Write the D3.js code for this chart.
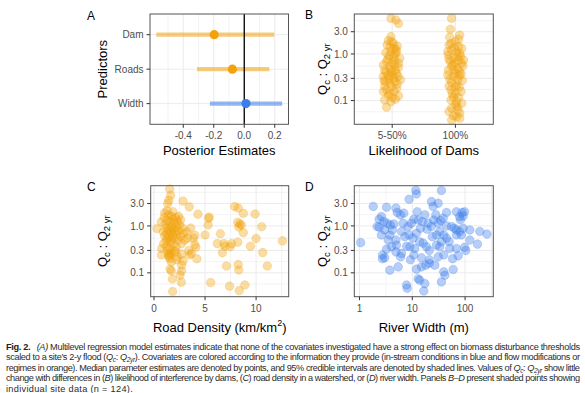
<!DOCTYPE html>
<html>
<head>
<meta charset="utf-8">
<script src="https://cdn.jsdelivr.net/npm/d3@7"></script>
<style>
body { margin: 0; background: #fff; }
text { font-family: "Liberation Sans", Arial, sans-serif; }
</style>
</head>
<body>
<div id="chart-area"></div>
<script>
// ---- Data ----

// Panel A: posterior estimates
const predictors = ["Dam", "Roads", "Width"];
const predictorType = ["flow", "flow", "instream"];
const estMedian = [-0.197, -0.078, 0.011];
const estLower = [-0.577, -0.31, -0.225];
const estUpper = [0.197, 0.164, 0.249];
const estTicks = [-0.4, -0.2, 0.0, 0.2];
const estMinor = [-0.5, -0.3, -0.1, 0.1];

// shared y axis of B-D
const qTicks = [0.1, 0.3, 1, 3];
const qTickLabels = ["0.1", "0.3", "1.0", "3.0"];
const qLimits = [0.031, 7.2];

// Panel B: likelihood of dams (jitter offsets)
const damClasses = ["5-50%", "100%"];
const damLowQ = [5.8,4.5,5.35,2.35,1.93,1.69,1.32,1.12,1.12,0.91,0.88,0.74,0.69,0.58,0.54,0.58,0.45,0.42,0.385,0.355,0.33,0.30,0.33,0.255,0.235,0.255,0.20,0.169,0.184,0.156,0.132,0.118,0.126,0.103,0.095,0.072,1.56,1.48,1.39,1.0,1.07,0.81,0.77,0.65,0.52,0.47,0.44,0.40,0.28,0.30,0.228,0.206,0.156,0.144,1.26,1.84,0.63,0.27,0.355,0.107];
const damLowJitter = [-0.02,0.10,0.06,-0.02,-0.06,0.02,0.03,-0.02,0.07,-0.05,0.02,0.04,-0.09,-0.14,-0.04,0.04,-0.12,-0.01,0.07,-0.06,-0.14,0.02,0.09,-0.11,-0.04,0.04,-0.01,-0.09,0.07,-0.14,-0.06,0.0,0.10,-0.12,-0.02,-0.09,-0.08,0.08,-0.03,0.05,-0.10,0.12,-0.07,0.0,0.10,-0.03,0.05,-0.1,0.13,-0.05,0.08,-0.12,0.03,-0.04,0.06,-0.01,0.1,-0.13,0.0,0.05];
const damHighQ = [5.8,3.4,2.55,1.69,1.84,1.44,1.22,1.12,0.95,1.03,0.81,0.74,0.69,0.63,0.63,0.54,0.49,0.45,0.42,0.385,0.37,0.33,0.28,0.243,0.217,0.193,0.169,0.144,0.118,0.118,0.103,0.095,0.081,0.069,0.063,0.054,0.047,0.042,0.0385,0.045,1.56,1.32,1.39,0.88,0.77,0.91,0.58,0.55,0.355,0.34,0.29,0.27,0.20,0.206,0.156,0.139,0.074,0.058,0.088,0.45,2.06,2.28,0.74,1.12];
const damHighJitter = [-0.06,-0.08,0.07,-0.07,0.0,0.05,-0.06,0.02,-0.11,0.07,-0.03,0.05,-0.08,0.0,0.10,-0.06,0.04,-0.11,0.07,0.0,0.09,-0.03,0.04,-0.06,0.02,0.06,-0.07,0.0,-0.03,0.05,-0.07,0.02,0.0,-0.06,0.04,0.07,-0.03,0.07,-0.06,0.02,-0.1,0.1,-0.02,0.08,-0.1,0.03,-0.04,0.12,-0.12,0.06,-0.09,0.11,0.0,-0.1,0.09,-0.05,0.03,-0.1,0.1,-0.02,0.05,-0.09,0.13,-0.12];

// Panel C: road density (km/km2)
const roadDensity = [1.54,1.63,1.44,1.35,2.84,3.45,4.3,5.4,5.35,5.3,5.0,6.5,6.2,6.85,6.95,6.7,7.45,7.9,8.25,8.75,9.9,8.2,8.4,8.55,8.3,8.75,10.55,10.0,9.45,8.2,10.65,12.58,11.1,8.25,8.3,7.1,8.9,8.35,7.4,5.55,7.6,4.2,4.0,3.85,4.1,4.0,
  0.29,0.72,0.75,0.72,1.04,1.2,1.4,1.5,1.55,1.7,1.57,1.7,1.8,1.83,2.68,2.55,2.7,2.7,2.84,2.7,3.4,3.5,3.66,2.2,2.0,
  1.0,1.1,1.2,1.25,1.3,1.3,1.4,1.45,1.5,1.5,1.55,1.6,1.65,1.7,1.7,1.75,1.8,1.85,1.9,1.9,2.0,2.0,2.05,2.1,2.15,2.2,2.25,2.3,2.35,2.4,2.5,2.6,2.7,2.8,2.9,3.0,3.2,3.3,1.35,1.6,1.45,1.65,1.2,1.05,0.9,2.4,2.6,1.85,1.3,2.1,2.3,0.95,3.6];
const roadQ = [6.1,4.5,3.5,3.0,3.4,2.55,1.78,1.55,1.45,1.05,0.64,0.68,0.42,0.42,0.37,0.27,0.36,2.6,2.4,1.85,1.8,1.2,1.1,1.05,0.95,0.72,0.96,0.54,0.37,0.45,0.27,0.48,0.14,0.15,0.115,0.14,0.055,0.042,0.052,0.062,0.42,0.2,0.4,0.55,0.35,0.63,
  0.88,1.22,0.33,0.24,1.9,0.36,0.24,0.25,0.2,0.17,0.12,0.11,0.074,0.04,0.063,0.09,0.11,0.146,0.18,0.25,0.3,0.24,0.26,0.19,0.3,
  1.5,1.1,0.9,0.7,0.55,1.3,1.7,0.8,0.6,1.0,0.45,1.25,0.75,0.5,1.6,0.95,0.65,1.4,0.42,0.85,1.15,0.55,0.75,1.5,0.35,0.95,0.65,1.25,0.5,0.8,1.05,0.6,0.42,0.9,0.7,0.5,0.75,0.55,0.3,0.32,0.22,0.26,0.48,0.62,0.75,1.6,1.35,2.0,2.1,0.28,0.22,0.42,0.9];
const roadTicks = [0, 5, 10];
const roadMinor = [2.5, 7.5, 12.5];

// Panel D: river width (m)
const riverWidth = [1.05,1.82,3.25,4.9,5.2,6.0,6.9,8.7,11.7,12.0,35.7,23.1,30.9,27.9,38.5,44.5,34.6,68.5,88,79,81.5,92,68.5,79,63,92,123,190,260,123,172,103,74,58,59.5,39.5,41.5,35.7,17.3,16.5,7.8,8.0,12.9,13.8,12.0,14.9,18.0,21.0,26.6,3.76,5.4,2.73,3.0,2.73,3.25,2.36,2.6,2.9,3.35,3.86,4.48,2.16,2.6,4.2,4.9,5.0,6.25,6.0,9.0,7.8,10.7,9.2,12.0,14.3,13.0,15.6,19.1,23,24,28.7,33,39.5,44.5,50,35.7,28.7,21,18.5,16.0,13.8,10.3,8.7,7.2,6.25,6.7,8.3,9.6,10.7,17.3,20,25.5,30.9,55.3,68.5,85,98,51,68.5,39.5,30.9,21,14.9,11.2,3.5,4.05,4.9,3.76,2.36,3.0,33,44.5,98,24.8,12.4];
const widthQ = [0.44,2.6,2.5,2.4,1.93,1.72,1.87,3.7,5.7,4.8,5.7,3.3,3.05,1.72,1.46,1.93,1.3,2.0,1.93,1.58,1.35,1.63,0.82,0.76,0.89,0.89,0.82,0.76,0.67,0.5,0.41,0.3,0.23,0.2,0.118,0.105,0.089,0.064,0.059,0.041,0.055,0.047,0.075,0.07,0.12,0.134,0.146,0.16,0.146,0.114,0.134,0.24,0.21,0.2,0.32,1.39,1.58,1.24,1.14,1.05,1.1,0.97,0.64,0.82,0.5,0.39,0.26,0.22,0.36,0.37,0.24,0.19,0.7,0.89,1.34,1.24,0.85,0.97,0.59,0.64,0.76,0.64,0.55,0.46,0.46,0.39,0.3,0.36,0.43,0.46,0.55,0.64,0.59,0.76,1.14,0.97,1.14,1.39,1.72,1.14,1.34,1.14,0.97,0.64,0.64,0.35,0.33,0.33,0.24,0.22,0.19,0.21,0.33,0.5,0.36,0.28,0.64,0.94,0.82,0.36,1.0,2.0,2.6,2.0];
const widthTicks = [1, 10, 100];
const widthMinor = [3.162, 31.62, 316.2];

// ---- Layout ----
const W = 585, H = 393;
const orange = "#F2A20C", blue = "#3C7DEB";
const gridCol = "#EBEBEB", tickCol = "#333333", labCol = "#4D4D4D";

const boxA = {x0: 150, x1: 288.5, y0: 14, y1: 124.3};
const boxB = {x0: 354.3, x1: 493.3, y0: 14, y1: 124.3};
const boxC = {x0: 150.7, x1: 288.7, y0: 185.7, y1: 296.7};
const boxD = {x0: 354.3, x1: 493.3, y0: 185.7, y1: 296.7};

var svg = d3.select("#chart-area")
  .append("svg")
  .attr("width", W)
  .attr("height", H);

// expand a linear extent by 5% like ggplot
function expand(lo, hi) {
  var d = (hi - lo) * 0.05;
  return [lo - d, hi + d];
}
function expandLog(lo, hi) {
  var e = expand(Math.log10(lo), Math.log10(hi));
  return [Math.pow(10, e[0]), Math.pow(10, e[1])];
}

function vLines(box, scale, vals, w) {
  svg.append("g").selectAll("line").data(vals.filter(v => {
      var p = scale(v); return p > box.x0 && p < box.x1; }))
    .enter().append("line")
    .attr("x1", d => scale(d)).attr("x2", d => scale(d))
    .attr("y1", box.y0).attr("y2", box.y1)
    .attr("stroke", gridCol).attr("stroke-width", w);
}
function hLines(box, scale, vals, w) {
  svg.append("g").selectAll("line").data(vals.filter(v => {
      var p = scale(v); return p > box.y0 && p < box.y1; }))
    .enter().append("line")
    .attr("y1", d => scale(d)).attr("y2", d => scale(d))
    .attr("x1", box.x0).attr("x2", box.x1)
    .attr("stroke", gridCol).attr("stroke-width", w);
}
function border(box) {
  svg.append("rect")
    .attr("x", box.x0).attr("y", box.y0)
    .attr("width", box.x1 - box.x0).attr("height", box.y1 - box.y0)
    .attr("fill", "none").attr("stroke", "#555").attr("stroke-width", 1);
}
function xAxis(box, scale, vals, labels) {
  var g = svg.append("g");
  vals.forEach((v, i) => {
    var x = scale(v);
    g.append("line").attr("x1", x).attr("x2", x)
      .attr("y1", box.y1).attr("y2", box.y1 + 3.5)
      .attr("stroke", tickCol).attr("stroke-width", 1);
    g.append("text").attr("x", x).attr("y", box.y1 + 15)
      .attr("text-anchor", "middle").attr("font-size", 10)
      .attr("fill", labCol).text(labels[i]);
  });
}
function yAxis(box, scale, vals, labels) {
  var g = svg.append("g");
  vals.forEach((v, i) => {
    var y = scale(v);
    g.append("line").attr("x1", box.x0 - 3.5).attr("x2", box.x0)
      .attr("y1", y).attr("y2", y)
      .attr("stroke", tickCol).attr("stroke-width", 1);
    g.append("text").attr("x", box.x0 - 6.5).attr("y", y + 3.6)
      .attr("text-anchor", "end").attr("font-size", 10)
      .attr("fill", labCol).text(labels[i]);
  });
}
function xTitle(box, parts, off) {
  var t = svg.append("text")
    .attr("x", (box.x0 + box.x1) / 2).attr("y", box.y1 + off)
    .attr("text-anchor", "middle").attr("font-size", 13).attr("fill", "#000");
  parts.forEach(p => {
    var s = t.append("tspan").text(p[0]);
    if (p[1]) s.attr("dy", p[1]);
    if (p[2]) s.attr("font-size", p[2]);
  });
}
function qTitle(box, x) {
  var t = svg.append("text")
    .attr("transform", "translate(" + x + "," + (box.y0 + box.y1) / 2 + ") rotate(-90)")
    .attr("text-anchor", "middle").attr("font-size", 13).attr("fill", "#000");
  t.append("tspan").text("Q");
  t.append("tspan").attr("font-size", 9.5).attr("dy", 3).text("c");
  t.append("tspan").attr("dy", -3).text(" : Q");
  t.append("tspan").attr("font-size", 9.5).attr("dy", 3).text("2 yr");
}
function letter(x, y, s) {
  svg.append("text").attr("x", x).attr("y", y)
    .attr("font-size", 12).attr("fill", "#000").text(s);
}
function dots(data, color) {
  svg.append("g").selectAll("circle").data(data)
    .enter().append("circle")
    .attr("cx", d => d[0]).attr("cy", d => d[1]).attr("r", 4.3)
    .attr("fill", color).attr("fill-opacity", 0.37)
    .attr("stroke", color).attr("stroke-opacity", 0.3).attr("stroke-width", 0.8);
}

// ---- Panel A ----
var xA = d3.scaleLinear()
  .domain(expand(d3.min(estLower), d3.max(estUpper)))
  .range([boxA.x0, boxA.x1]);
var yA = d3.scalePoint().domain(predictors)
  .range([boxA.y0, boxA.y1]).padding(0.6);

vLines(boxA, xA, estMinor, 0.6);
vLines(boxA, xA, estTicks, 1);
hLines(boxA, yA, predictors, 1);

var rows = predictors.map((p, i) => ({
  name: p, med: estMedian[i], lo: estLower[i], hi: estUpper[i],
  color: predictorType[i] === "flow" ? orange : blue
}));
svg.append("g").selectAll("line").data(rows).enter().append("line")
  .attr("x1", d => xA(d.lo)).attr("x2", d => xA(d.hi))
  .attr("y1", d => yA(d.name)).attr("y2", d => yA(d.name))
  .attr("stroke", d => d.color).attr("stroke-opacity", 0.55)
  .attr("stroke-width", 4.2);
svg.append("line")
  .attr("x1", xA(0)).attr("x2", xA(0))
  .attr("y1", boxA.y0).attr("y2", boxA.y1)
  .attr("stroke", "#000").attr("stroke-width", 1.3);
svg.append("g").selectAll("circle").data(rows).enter().append("circle")
  .attr("cx", d => xA(d.med)).attr("cy", d => yA(d.name)).attr("r", 4.6)
  .attr("fill", d => d.color);
border(boxA);
xAxis(boxA, xA, estTicks, estTicks.map(d => d.toFixed(1)));
yAxis(boxA, yA, predictors, predictors);
xTitle(boxA, [["Posterior Estimates"]], 31);
svg.append("text")
  .attr("transform", "translate(107," + (boxA.y0 + boxA.y1) / 2 + ") rotate(-90)")
  .attr("text-anchor", "middle").attr("font-size", 13).text("Predictors");
letter(87, 19.5, "A");

// ---- shared y scales ----
function qScale(box) {
  return d3.scaleLog().domain(qLimits).range([box.y1, box.y0]);
}
function qMinor() {
  // ggplot minor breaks: midpoints of the major breaks in log space
  var lb = qTicks.map(Math.log10);
  var step = lb[1] - lb[0];
  var ext = [lb[0] - step].concat(lb, [lb[lb.length - 1] + step]);
  var out = [];
  for (var i = 0; i < ext.length - 1; i++) out.push(Math.pow(10, (ext[i] + ext[i + 1]) / 2));
  return out;
}

// ---- Panel B ----
var xB = d3.scalePoint().domain(damClasses).range([boxB.x0, boxB.x1]).padding(0.6);
var yB = qScale(boxB);
var stepB = xB.step();
hLines(boxB, yB, qMinor(), 0.6);
hLines(boxB, yB, qTicks, 1);
vLines(boxB, xB, damClasses, 1);
dots(damLowQ.map((q, i) => [xB(damClasses[0]) + damLowJitter[i] * stepB, yB(q)]), orange);
dots(damHighQ.map((q, i) => [xB(damClasses[1]) + damHighJitter[i] * stepB, yB(q)]), orange);
border(boxB);
xAxis(boxB, xB, damClasses, damClasses);
yAxis(boxB, yB, qTicks, qTickLabels);
xTitle(boxB, [["Likelihood of Dams"]], 31);
qTitle(boxB, 326.5);
letter(305, 19, "B");

// ---- Panel C ----
var xC = d3.scaleLinear()
  .domain(expand(d3.min(roadDensity), d3.max(roadDensity)))
  .range([boxC.x0, boxC.x1]);
var yC = qScale(boxC);
hLines(boxC, yC, qMinor(), 0.6);
vLines(boxC, xC, roadMinor, 0.6);
hLines(boxC, yC, qTicks, 1);
vLines(boxC, xC, roadTicks, 1);
dots(roadDensity.map((r, i) => [xC(r), yC(roadQ[i])]), orange);
border(boxC);
xAxis(boxC, xC, roadTicks, roadTicks.map(String));
yAxis(boxC, yC, qTicks, qTickLabels);
xTitle(boxC, [["Road Density (km/km"], ["2", -6, 9], [")", 6, 13]], 35);
qTitle(boxC, 107);
letter(87, 190.5, "C");

// ---- Panel D ----
var xD = d3.scaleLog()
  .domain(expandLog(d3.min(riverWidth), d3.max(riverWidth)))
  .range([boxD.x0, boxD.x1]);
var yD = qScale(boxD);
hLines(boxD, yD, qMinor(), 0.6);
vLines(boxD, xD, widthMinor, 0.6);
hLines(boxD, yD, qTicks, 1);
vLines(boxD, xD, widthTicks, 1);
dots(riverWidth.map((r, i) => [xD(r), yD(widthQ[i])]), blue);
border(boxD);
xAxis(boxD, xD, widthTicks, widthTicks.map(String));
yAxis(boxD, yD, qTicks, qTickLabels);
xTitle(boxD, [["River Width (m)"]], 35);
qTitle(boxD, 326.5);
letter(305, 190.5, "D");

// ---- Caption ----
const captionLines = [
  [["Fig. 2.", "b"], ["\u2002 ", ""], ["(A)", "i"], [" Multilevel regression model estimates indicate that none of the covariates investigated have a strong effect on biomass disturbance thresholds", ""]],
  [["scaled to a site\u2019s 2-y flood (", ""], ["Q", "i"], ["c", "sub"], [": ", ""], ["Q", "i"], ["2yr", "sub"], ["). Covariates are colored according to the information they provide (in-stream conditions in blue and flow modifications or", ""]],
  [["regimes in orange). Median parameter estimates are denoted by points, and 95% credible intervals are denoted by shaded lines. Values of ", ""], ["Q", "i"], ["c", "sub"], [": ", ""], ["Q", "i"], ["2yr", "sub"], [" show little", ""]],
  [["change with differences in (", ""], ["B", "i"], [") likelihood of interference by dams, (", ""], ["C", "i"], [") road density in a watershed, or (", ""], ["D", "i"], [") river width. Panels ", ""], ["B\u2013D", "i"], [" present shaded points showing", ""]],
  [["individual site data (n = 124).", ""]]
];
captionLines.forEach((line, li) => {
  var t = svg.append("text")
    .attr("x", 6).attr("y", 349.5 + li * 10.6)
    .attr("font-family", "'Open Sans', 'DejaVu Sans', sans-serif")
    .attr("font-size", 9.2).attr("fill", "#2b2b2b");
  if (li < 4) t.attr("textLength", 574).attr("lengthAdjust", "spacing");
  else t.attr("letter-spacing", 0.3);
  var shift = 0;
  line.forEach(seg => {
    var s = t.append("tspan").text(seg[0]);
    var want = 0;
    if (seg[1] === "b") s.attr("font-weight", "bold").attr("fill", "#222");
    if (seg[1] === "i" || seg[1] === "sub") s.attr("font-style", "italic");
    if (seg[1] === "sub") { want = 2; s.attr("font-size", 6.5); }
    if (want !== shift) { s.attr("dy", want - shift); shift = want; }
  });
});
</script>
</body>
</html>
